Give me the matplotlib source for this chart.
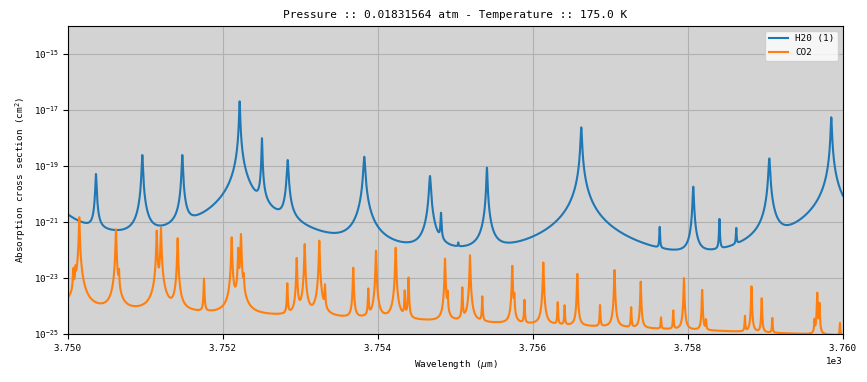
import numpy as np
import matplotlib
matplotlib.use("Agg")
import matplotlib.pyplot as plt
from matplotlib.ticker import NullLocator

plt.rcParams['font.family'] = 'DejaVu Sans Mono'

wl_min, wl_max = 3750.0, 3760.0

# H2O line list: centre, log10 of peak cross section, half width
h2o_center = [3749.60, 3750.361, 3750.959, 3751.475, 3752.215, 3752.503, 3752.835,
              3753.823, 3754.671, 3754.813, 3755.036, 3755.406, 3756.623, 3757.635,
              3758.068, 3758.406, 3758.623, 3759.049, 3759.849]
h2o_logpeak = [-17.55, -19.29, -18.61, -18.61, -16.69, -18.01, -18.79,
               -18.67, -19.36, -20.73, -22.3, -19.06, -17.62, -21.26,
               -19.74, -20.93, -21.35, -18.73, -17.26]
h2o_width = [0.010, 0.006, 0.006, 0.006, 0.0048, 0.004, 0.008,
             0.009, 0.009, 0.005, 0.004, 0.0055, 0.0068, 0.004,
             0.006, 0.004, 0.004, 0.008, 0.006]
h2o_cont = [-21.7, -22.6]  # log10 continuum at left / right edge

# CO2 line list
co2_center = [3750.068, 3750.097, 3750.146, 3750.619, 3750.658, 3751.145, 3751.200,
              3751.415, 3751.755, 3752.112, 3752.197, 3752.232, 3752.268, 3752.830,
              3752.951, 3753.054, 3753.243, 3753.316, 3753.681, 3753.875, 3753.974,
              3754.228, 3754.345, 3754.394, 3754.865, 3754.899, 3755.088, 3755.187,
              3755.346, 3755.733, 3755.759, 3755.890, 3756.133, 3756.319, 3756.408,
              3756.572, 3756.865, 3757.052, 3757.267, 3757.390, 3757.652, 3757.810,
              3757.948, 3758.183, 3758.232, 3758.735, 3758.819, 3758.951, 3759.088,
              3759.632, 3759.668, 3759.697, 3759.961]
co2_logpeak = [-22.75, -22.75, -20.83, -21.26, -22.83, -21.31, -21.21,
               -21.58, -23.05, -21.55, -21.94, -21.43, -23.02, -23.23,
               -22.29, -21.79, -21.67, -23.31, -22.64, -23.43, -22.03,
               -21.92, -23.51, -23.0, -22.31, -23.59, -23.37, -22.19,
               -23.72, -22.57, -23.68, -23.85, -22.45, -23.94, -24.07,
               -22.86, -24.05, -22.72, -24.14, -23.14, -24.62, -24.27,
               -23.01, -23.44, -24.74, -24.5, -23.31, -23.75, -24.58,
               -24.66, -23.54, -23.94, -24.8]
co2_width = 0.004
co2_cont = [-24.05, -25.05]


def spectrum(wl, centers, logpeaks, widths, cont, taper):
    widths = np.broadcast_to(widths, (len(centers),))
    frac = (wl - wl_min) / (wl_max - wl_min)
    sigma = 10 ** (cont[0] + (cont[1] - cont[0]) * frac)
    for c, p, w in zip(centers, logpeaks, widths):
        d = wl - c
        sigma = sigma + 10 ** p * w ** 2 / (d ** 2 + w ** 2) * np.exp(-(d / taper) ** 2)
    return sigma


wl = np.linspace(wl_min, wl_max, 20001)
h2o = spectrum(wl, h2o_center, h2o_logpeak, h2o_width, h2o_cont, 1.5)
co2 = spectrum(wl, co2_center, co2_logpeak, co2_width, co2_cont, 0.5)

fig = plt.figure(figsize=(8.67, 3.82), dpi=100)
ax = fig.add_axes([0.0784, 0.1257, 0.8939, 0.8062])
ax.set_facecolor('lightgray')
ax.semilogy(wl, h2o, lw=1.5, label='H20 (1)')
ax.semilogy(wl, co2, lw=1.5, label='CO2')
ax.set_xlim(wl_min, wl_max)
ax.set_ylim(1e-25, 1e-14)
ax.set_yticks([1e-25, 1e-23, 1e-21, 1e-19, 1e-17, 1e-15])
ax.yaxis.set_minor_locator(NullLocator())
ax.ticklabel_format(axis='x', style='sci', scilimits=(0, 0))
ax.tick_params(labelsize=6.7)
ax.xaxis.get_offset_text().set_fontsize(6.7)
ax.grid(True)
ax.set_title('Pressure :: 0.01831564 atm - Temperature :: 175.0 K', fontsize=8)
ax.set_xlabel(r'Wavelength ($\mu$m)', fontsize=6.7)
ax.set_ylabel(r'Absorption cross section (cm$^2$)', fontsize=6.7)
ax.legend(loc='upper right', fontsize=6.7)

fig.savefig('out.png', dpi=100)
